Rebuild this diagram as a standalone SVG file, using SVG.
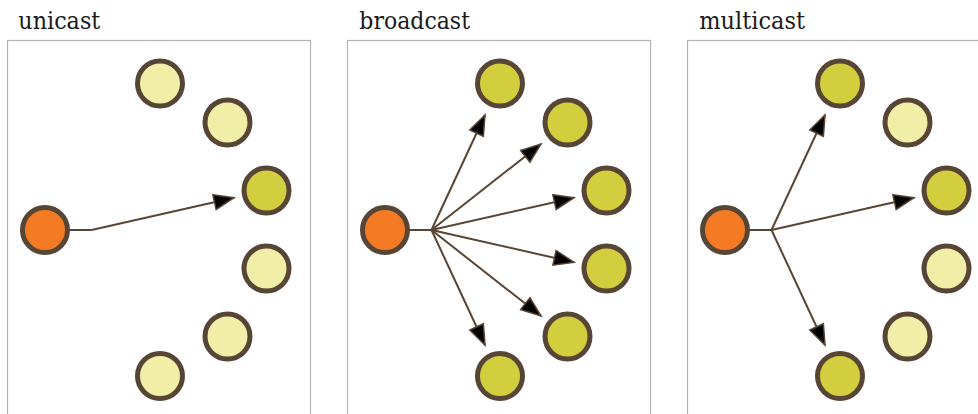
<svg xmlns="http://www.w3.org/2000/svg" width="978" height="414" viewBox="0 0 978 414">
<style>
.frame{fill:#fff;stroke:#b3b3b3;stroke-width:1.2}
.title{font-family:"DejaVu Serif","Liberation Serif",serif;font-size:23.5px;fill:#1a1a1a}
.n{stroke:#574535;stroke-width:5}
.src{fill:#f47b23}
.on{fill:#d3ce3e}
.off{fill:#f1eea7}
.e{fill:none;stroke:#574535;stroke-width:2;marker-end:url(#ah)}
.stem{fill:none;stroke:#574535;stroke-width:2}
</style>
<defs>
<marker id="ah" markerUnits="userSpaceOnUse" markerWidth="26" markerHeight="22" viewBox="-2 -10 26 20" refX="20" refY="0" orient="auto">
<path d="M0,-7.5 L20,0 L0,7.5 Z" fill="#000" stroke="#574535" stroke-width="1.5" stroke-linejoin="miter"/>
</marker>
</defs>

<g id="panel-unicast">
<rect class="frame" x="7.5" y="40.5" width="303" height="390"/>
<text class="title" x="18.3" y="29.3" textLength="82" lengthAdjust="spacingAndGlyphs">unicast</text>
</g>
<g id="panel-broadcast">
<rect class="frame" x="347.5" y="40.5" width="303" height="390"/>
<text class="title" x="359.3" y="29.3" textLength="110.7" lengthAdjust="spacingAndGlyphs">broadcast</text>
</g>
<g id="panel-multicast">
<rect class="frame" x="687.5" y="40.5" width="303" height="390"/>
<text class="title" x="699.3" y="29.3" textLength="105.7" lengthAdjust="spacingAndGlyphs">multicast</text>
</g>

<g id="connectors">
<path class="stem" d="M70,230 L91.5,230"/>
<path class="e" d="M91.5,230 L234,197.7"/>
<path class="stem" d="M410,230 L431.5,230"/>
<path class="e" d="M431.5,230 L485,115"/>
<path class="e" d="M431.5,230 L541,144"/>
<path class="e" d="M431.5,230 L574,197.7"/>
<path class="e" d="M431.5,230 L574,262.3"/>
<path class="e" d="M431.5,230 L541,316"/>
<path class="e" d="M431.5,230 L485,345"/>
<path class="stem" d="M750,230 L771.5,230"/>
<path class="e" d="M771.5,230 L825,115"/>
<path class="e" d="M771.5,230 L914,197.7"/>
<path class="e" d="M771.5,230 L825,345"/>
</g>

<g id="unicast-source"><circle class="n src" cx="45" cy="230" r="22.5"/></g>
<g id="unicast-r1"><circle class="n off" cx="160" cy="83.5" r="22.5"/></g>
<g id="unicast-r2"><circle class="n off" cx="227.5" cy="122.5" r="22.5"/></g>
<g id="unicast-r3"><circle class="n on" cx="266.5" cy="190.5" r="22.5"/></g>
<g id="unicast-r4"><circle class="n off" cx="266.5" cy="268.5" r="22.5"/></g>
<g id="unicast-r5"><circle class="n off" cx="227.5" cy="336.5" r="22.5"/></g>
<g id="unicast-r6"><circle class="n off" cx="160" cy="376" r="22.5"/></g>

<g id="broadcast-source"><circle class="n src" cx="385" cy="230" r="22.5"/></g>
<g id="broadcast-r1"><circle class="n on" cx="500" cy="83.5" r="22.5"/></g>
<g id="broadcast-r2"><circle class="n on" cx="567.5" cy="122.5" r="22.5"/></g>
<g id="broadcast-r3"><circle class="n on" cx="606.5" cy="190.5" r="22.5"/></g>
<g id="broadcast-r4"><circle class="n on" cx="606.5" cy="268.5" r="22.5"/></g>
<g id="broadcast-r5"><circle class="n on" cx="567.5" cy="336.5" r="22.5"/></g>
<g id="broadcast-r6"><circle class="n on" cx="500" cy="376" r="22.5"/></g>

<g id="multicast-source"><circle class="n src" cx="725" cy="230" r="22.5"/></g>
<g id="multicast-r1"><circle class="n on" cx="840" cy="83.5" r="22.5"/></g>
<g id="multicast-r2"><circle class="n off" cx="907.5" cy="122.5" r="22.5"/></g>
<g id="multicast-r3"><circle class="n on" cx="946.5" cy="190.5" r="22.5"/></g>
<g id="multicast-r4"><circle class="n off" cx="946.5" cy="268.5" r="22.5"/></g>
<g id="multicast-r5"><circle class="n off" cx="907.5" cy="336.5" r="22.5"/></g>
<g id="multicast-r6"><circle class="n on" cx="840" cy="376" r="22.5"/></g>
</svg>
